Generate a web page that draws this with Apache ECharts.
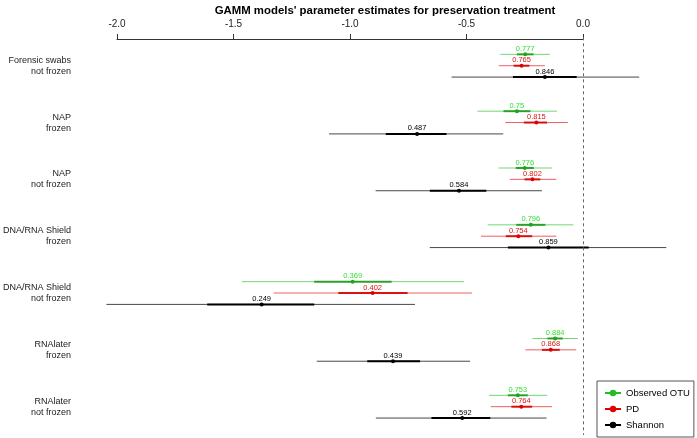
<!DOCTYPE html>
<html>
<head>
<meta charset="utf-8">
<script src="https://cdn.jsdelivr.net/npm/echarts@6/dist/echarts.min.js"></script>
<style>
html,body{margin:0;padding:0;background:#fff;}
#chart{width:697px;height:438px;}
</style>
</head>
<body>
<div id="chart"></div>
<script>
// ---- data ----
var categories = ["Forensic swabs\nnot frozen", "NAP\nfrozen", "NAP\nnot frozen", "DNA/RNA Shield\nfrozen", "DNA/RNA Shield\nnot frozen", "RNAlater\nfrozen", "RNAlater\nnot frozen"];
var seriesNames = ["Observed OTU", "PD", "Shannon"];
var xTicks = [-2.0, -1.5, -1.0, -0.5, 0.0];

// Observed OTU
var otuEst = [-0.252, -0.288, -0.254, -0.228, -0.997, -0.123, -0.284];
var otuLo = [-0.360, -0.458, -0.367, -0.414, -1.476, -0.221, -0.408];
var otuHi = [-0.146, -0.115, -0.136, -0.044, -0.516, -0.025, -0.157];
var otuThickLo = [-0.288, -0.346, -0.293, -0.291, -1.163, -0.156, -0.327];
var otuThickHi = [-0.216, -0.230, -0.215, -0.165, -0.829, -0.090, -0.241];
var otuLabels = ["0.777", "0.75", "0.776", "0.796", "0.369", "0.884", "0.753"];

// PD
var pdEst = [-0.268, -0.204, -0.221, -0.282, -0.911, -0.142, -0.269];
var pdLo = [-0.366, -0.338, -0.319, -0.443, -1.338, -0.251, -0.401];
var pdHi = [-0.167, -0.068, -0.118, -0.118, -0.482, -0.032, -0.136];
var pdThickLo = [-0.302, -0.258, -0.255, -0.336, -1.059, -0.180, -0.312];
var pdThickHi = [-0.234, -0.158, -0.187, -0.222, -0.760, -0.103, -0.222];
var pdLabels = ["0.765", "0.815", "0.802", "0.754", "0.402", "0.868", "0.764"];

// Shannon
var shEst = [-0.167, -0.719, -0.538, -0.152, -1.390, -0.823, -0.524];
var shLo = [-0.570, -1.099, -0.898, -0.664, -2.060, -1.152, -0.897];
var shHi = [0.240, -0.347, -0.180, 0.357, -0.728, -0.490, -0.160];
var shThickLo = [-0.305, -0.854, -0.664, -0.327, -1.625, -0.934, -0.657];
var shThickHi = [-0.030, -0.592, -0.420, 0.022, -1.163, -0.706, -0.403];
var shLabels = ["0.846", "0.487", "0.584", "0.859", "0.249", "0.439", "0.592"];

var rowOffsets = [-0.2, 0, 0.2];

var FONT = "'Liberation Sans', Arial, Helvetica, sans-serif";

var styles = [
  {thin: 'rgba(40,190,40,0.65)', thick: 'rgba(20,150,20,0.85)', dot: '#1aa81a', text: '#33e033', legend: '#1fc01f'},
  {thin: 'rgba(230,30,30,0.7)', thick: 'rgba(215,0,0,0.9)', dot: '#e00000', text: '#e01515', legend: '#e00000'},
  {thin: 'rgba(0,0,0,0.72)', thick: '#000000', dot: '#000000', text: '#000000', legend: '#000000'}
];

function buildData(est, lo, hi, tlo, thi, offset) {
  return est.map(function (v, i) {
    return [v, lo[i], hi[i], tlo[i], thi[i], i + offset];
  });
}

var allData = [
  buildData(otuEst, otuLo, otuHi, otuThickLo, otuThickHi, rowOffsets[0]),
  buildData(pdEst, pdLo, pdHi, pdThickLo, pdThickHi, rowOffsets[1]),
  buildData(shEst, shLo, shHi, shThickLo, shThickHi, rowOffsets[2])
];
var allLabels = [otuLabels, pdLabels, shLabels];

function makeRender(k) {
  var st = styles[k];
  return function (params, api) {
    var yv = api.value(5);
    var pE = api.coord([api.value(0), yv]);
    var pL = api.coord([api.value(1), yv]);
    var pH = api.coord([api.value(2), yv]);
    var pTL = api.coord([api.value(3), yv]);
    var pTH = api.coord([api.value(4), yv]);
    var y = pE[1];
    return {
      type: 'group',
      children: [
        {type: 'line', shape: {x1: pL[0], y1: y, x2: pH[0], y2: y}, style: {stroke: st.thin, lineWidth: 1}},
        {type: 'line', shape: {x1: pTL[0], y1: y, x2: pTH[0], y2: y}, style: {stroke: st.thick, lineWidth: 2}},
        {type: 'circle', shape: {cx: pE[0], cy: y, r: 2}, style: {fill: st.dot}},
        {type: 'text', style: {text: allLabels[k][params.dataIndex], x: pE[0], y: y - 5.5, align: 'center', verticalAlign: 'middle', fontSize: 7.5, fontFamily: FONT, fill: st.text}}
      ]
    };
  };
}

var series = [];
// legend-only line series
seriesNames.forEach(function (n, k) {
  series.push({
    name: n, type: 'line', xAxisIndex: 1, yAxisIndex: 2, data: [],
    symbol: 'circle', symbolSize: 5,
    itemStyle: {color: styles[k].legend},
    lineStyle: {color: styles[k].legend, width: 1}
  });
});
seriesNames.forEach(function (n, k) {
  var s = {
    name: n + ' estimate', type: 'custom', xAxisIndex: 1, yAxisIndex: 2,
    data: allData[k], clip: false, silent: true,
    encode: {x: [0, 1, 2, 3, 4], y: 5},
    renderItem: makeRender(k)
  };
  if (k === 0) {
    s.markLine = {
      silent: true, symbol: ['none', 'none'], label: {show: false},
      lineStyle: {type: [3, 3], color: '#666', width: 1},
      data: [{xAxis: 0}]
    };
  }
  series.push(s);
});

var chart = echarts.init(document.getElementById('chart'));
chart.setOption({
  animation: false,
  backgroundColor: '#fff',
  graphic: [{
    type: 'text', x: 385, y: 11,
    style: {text: "GAMM models' parameter estimates for preservation treatment", align: 'center', verticalAlign: 'middle',
      fontSize: 11.4, fontWeight: 'bold', fontFamily: FONT, fill: '#000'}
  }],
  legend: {
    orient: 'vertical', left: 597, top: 381,
    data: seriesNames,
    itemWidth: 16, itemHeight: 8, itemGap: 6,
    padding: [7, 4, 7, 7],
    borderColor: '#555', borderWidth: 1, borderRadius: 0,
    textStyle: {fontSize: 9.5, fontFamily: FONT, color: '#000'},
    selectedMode: false
  },
  grid: [
    {left: 117, width: 466, top: 38, height: 1},
    {left: 70.4, right: 9.15, top: 37.3, bottom: 2.9}
  ],
  xAxis: [
    {
      gridIndex: 0, type: 'value', position: 'top', min: xTicks[0], max: xTicks[xTicks.length - 1], interval: 0.5,
      axisLine: {show: true, lineStyle: {color: '#333', width: 1}},
      axisTick: {show: true, length: 5, lineStyle: {color: '#333'}},
      axisLabel: {formatter: function (v) { return v.toFixed(1); }, fontSize: 10, color: '#222', fontFamily: FONT, margin: 9},
      splitLine: {show: false}
    },
    {
      gridIndex: 1, type: 'value', min: -2.2, max: 0.45, show: false, splitLine: {show: false}
    }
  ],
  yAxis: [
    {gridIndex: 0, type: 'value', show: false},
    {
      gridIndex: 1, type: 'category', data: categories, inverse: true,
      axisLine: {show: false}, axisTick: {show: false},
      axisLabel: {fontSize: 9, lineHeight: 11, color: '#222', fontFamily: FONT, margin: 3, align: 'right'}
    },
    {gridIndex: 1, type: 'value', min: -0.5, max: 6.5, inverse: true, show: false, splitLine: {show: false}}
  ],
  series: series
});
</script>
</body>
</html>
